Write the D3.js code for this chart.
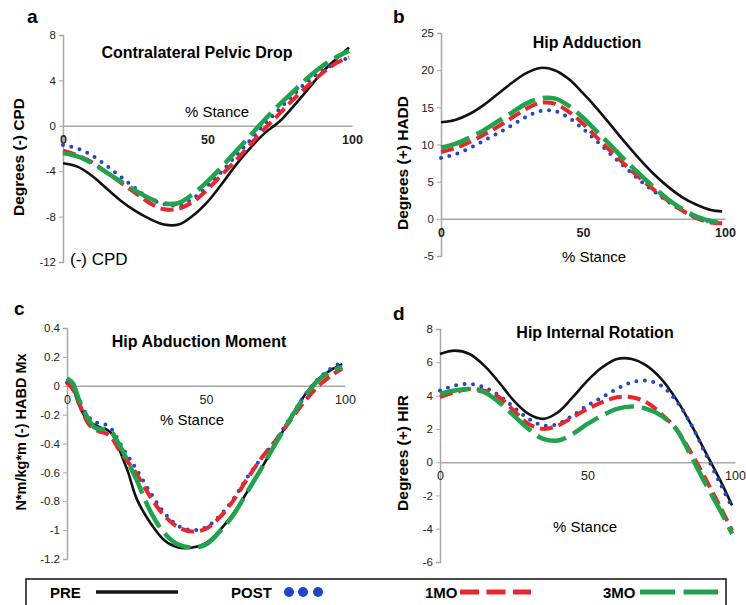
<!DOCTYPE html>
<html>
<head>
<meta charset="utf-8">
<script src="https://cdn.jsdelivr.net/npm/d3@7"></script>
<style>
  body { margin: 0; background: #fff; }
  svg { font-family: "Liberation Sans", Arial, sans-serif; }
</style>
</head>
<body>
<script>
const W = 746, H = 605

// % stance sample points
const stance = [0,5,10,15,20,25,30,35,40,45,50,55,60,65,70,75,80,85,90,95,99]
const stanceC = [0,2,4,6,8,10,12,14,16,18,20,22,25,30,35,40,45,50,55,60,65,70,75,80,85,90,95,99]
const xTicks = [0, 50, 100]

// a - contralateral pelvic drop
const cpdPre  = [-3.3,-3.6,-4.4,-5.5,-6.6,-7.5,-8.2,-8.7,-8.7,-7.9,-6.7,-5.1,-3.4,-1.9,-0.6,0.4,1.8,3.3,4.8,6.0,6.9]
const cpdPost = [-1.7,-2.0,-2.6,-3.5,-4.5,-5.5,-6.4,-6.9,-7.0,-6.4,-5.3,-4.0,-2.6,-1.2,0.2,1.5,2.8,4.0,4.9,5.6,6.0]
const cpd1mo  = [-2.2,-2.6,-3.2,-4.1,-5.0,-5.9,-6.8,-7.35,-7.3,-6.7,-5.6,-4.3,-3.0,-1.6,-0.2,1.1,2.4,3.6,4.7,5.6,6.0]
const cpd3mo  = [-2.4,-2.7,-3.3,-4.1,-4.9,-5.7,-6.4,-6.85,-6.8,-6.0,-4.9,-3.6,-2.2,-0.8,0.6,1.9,3.1,4.3,5.3,6.1,6.6]
const cpdTicks = [-12,-8,-4,0,4,8]

// b - hip adduction
const haddPre  = [13.0,13.3,14.1,15.3,16.8,18.3,19.6,20.3,20.0,18.8,16.9,14.8,12.5,10.2,8.0,6.0,4.3,2.9,1.9,1.2,1.0]
const haddPost = [8.2,8.7,9.5,10.5,11.5,12.6,13.7,14.5,14.5,13.6,12.1,10.4,8.6,6.9,5.2,3.7,2.3,1.1,0.2,-0.4,-0.6]
const hadd1mo  = [9.0,9.5,10.3,11.3,12.4,13.6,14.8,15.6,15.5,14.4,12.8,10.9,9.0,7.2,5.5,3.9,2.4,1.1,0.1,-0.5,-0.6]
const hadd3mo  = [9.6,10.1,10.9,11.9,13.1,14.3,15.5,16.2,16.2,15.2,13.6,11.7,9.8,7.8,6.0,4.2,2.6,1.3,0.3,-0.3,-0.5]
const haddTicks = [-5,0,5,10,15,20,25]

// c - hip abduction moment
const habdPre  = [0.05,0.0,-0.12,-0.2,-0.25,-0.27,-0.29,-0.3,-0.33,-0.4,-0.5,-0.6,-0.78,-0.95,-1.07,-1.12,-1.12,-1.09,-1.0,-0.88,-0.73,-0.57,-0.4,-0.24,-0.08,0.04,0.11,0.15]
const habdPost = [0.02,-0.02,-0.1,-0.17,-0.22,-0.25,-0.26,-0.27,-0.3,-0.36,-0.43,-0.49,-0.58,-0.74,-0.88,-0.97,-1.0,-0.98,-0.9,-0.78,-0.63,-0.5,-0.38,-0.23,-0.08,0.04,0.12,0.16]
const habd1mo  = [0.02,-0.02,-0.1,-0.2,-0.27,-0.3,-0.32,-0.33,-0.36,-0.42,-0.48,-0.53,-0.61,-0.77,-0.9,-0.98,-1.01,-0.99,-0.91,-0.79,-0.64,-0.5,-0.38,-0.25,-0.12,-0.01,0.07,0.12]
const habd3mo  = [0.05,0.02,-0.08,-0.17,-0.24,-0.29,-0.3,-0.3,-0.32,-0.38,-0.45,-0.53,-0.65,-0.87,-1.02,-1.1,-1.12,-1.1,-1.01,-0.89,-0.73,-0.57,-0.4,-0.24,-0.09,0.03,0.1,0.13]
const habdTicks = [-1.2,-1,-0.8,-0.6,-0.4,-0.2,0,0.2,0.4]

// d - hip internal rotation
const hirPre  = [6.5,6.7,6.5,5.8,4.8,3.7,2.9,2.6,3.0,3.9,4.9,5.7,6.2,6.2,5.8,5.0,3.8,2.3,0.6,-1.1,-2.6]
const hirPost = [4.3,4.6,4.7,4.5,4.0,3.3,2.6,2.2,2.3,2.8,3.4,3.9,4.4,4.8,4.9,4.6,3.7,2.3,0.5,-1.3,-2.7]
const hir1mo  = [3.9,4.2,4.4,4.3,3.9,3.1,2.3,2.0,2.2,2.7,3.2,3.6,3.9,3.9,3.6,2.9,2.0,0.6,-1.0,-2.7,-4.1]
const hir3mo  = [4.1,4.3,4.4,4.2,3.6,2.8,2.0,1.4,1.3,1.7,2.3,2.8,3.2,3.35,3.2,2.8,2.0,0.4,-1.3,-2.9,-4.3]
const hirTicks = [-6,-4,-2,0,2,4,6,8]

const groups = ['PRE', 'POST', '1MO', '3MO']
const style = {
    'PRE':  {color: '#111111', width: 2.6, dash: null},
    'POST': {color: '#2146c7', width: 4,   dash: '0 8.5'},
    '1MO':  {color: '#e8262b', width: 4,   dash: '13 6'},
    '3MO':  {color: '#21a24d', width: 4.5, dash: '30 8'}
}

const panels = [
    {letter: 'a', title: 'Contralateral Pelvic Drop', ylab: 'Degrees (-) CPD', xs: stance,
     series: [cpdPre, cpdPost, cpd1mo, cpd3mo], yTicks: cpdTicks,
     xr: [63, 352], yr: [262, 35], boldX: true,
     letterPos: [27, 23], titlePos: [197, 58], stancePos: [217, 117], ylabPos: [19, 157]},
    {letter: 'b', title: 'Hip Adduction', ylab: 'Degrees (+) HADD', xs: stance,
     series: [haddPre, haddPost, hadd1mo, hadd3mo], yTicks: haddTicks,
     xr: [441, 725], yr: [256, 33], boldX: true,
     letterPos: [393, 23], titlePos: [587, 48], stancePos: [594, 262], ylabPos: [403, 163]},
    {letter: 'c', title: 'Hip Abduction Moment', ylab: 'N*m/kg*m (-) HABD Mx', xs: stanceC,
     series: [habdPre, habdPost, habd1mo, habd3mo], yTicks: habdTicks,
     xr: [67, 345], yr: [559, 328], boldX: false,
     letterPos: [14, 315], titlePos: [199, 347], stancePos: [192, 425], ylabPos: [21, 432]},
    {letter: 'd', title: 'Hip Internal Rotation', ylab: 'Degrees (+) HIR', xs: stance,
     series: [hirPre, hirPost, hir1mo, hir3mo], yTicks: hirTicks,
     xr: [440, 735], yr: [562, 329], boldX: false,
     letterPos: [393, 320], titlePos: [595, 338], stancePos: [585, 532], ylabPos: [403, 453]}
]

const svg = d3.select('body').append('svg')
    .attr('width', W)
    .attr('height', H)

const fmt = d => String(+d.toFixed(1))

panels.forEach(p => {
    const x = d3.scaleLinear().domain([0, 100]).range(p.xr)
    const y = d3.scaleLinear().domain(d3.extent(p.yTicks)).range(p.yr)
    const g = svg.append('g')

    // y axis
    const ya = g.append('g')
        .attr('transform', `translate(${p.xr[0]},0)`)
        .call(d3.axisLeft(y).tickValues(p.yTicks).tickSize(4).tickPadding(3).tickFormat(fmt))
    ya.select('.domain').attr('stroke', '#a8a8a8').attr('stroke-width', 1.5)
    ya.selectAll('.tick line').attr('stroke', '#a8a8a8')
    ya.selectAll('text').attr('font-size', 11.5).attr('fill', '#222')

    // x axis at zero
    const xa = g.append('g')
        .attr('transform', `translate(0,${y(0)})`)
        .call(d3.axisBottom(x).tickValues(xTicks).tickSize(0).tickPadding(9))
    xa.select('.domain').attr('stroke', '#a8a8a8').attr('stroke-width', 1.5)
    xa.selectAll('text').attr('font-size', 12.5).attr('fill', '#222')
        .attr('font-weight', p.boldX ? 'bold' : 'normal')

    // curves
    groups.forEach((name, i) => {
        const s = style[name]
        const line = d3.line()
            .x((d, j) => x(p.xs[j]))
            .y(d => y(d))
            .curve(d3.curveCatmullRom.alpha(0.5))
        g.append('path')
            .datum(p.series[i])
            .attr('d', line)
            .attr('fill', 'none')
            .attr('stroke', s.color)
            .attr('stroke-width', s.width)
            .attr('stroke-linecap', name === 'POST' ? 'round' : 'butt')
            .attr('stroke-dasharray', s.dash)
    })

    g.append('text')
        .attr('x', p.letterPos[0]).attr('y', p.letterPos[1])
        .attr('font-size', 19).attr('font-weight', 'bold')
        .text(p.letter)
    g.append('text')
        .attr('x', p.titlePos[0]).attr('y', p.titlePos[1])
        .attr('text-anchor', 'middle')
        .attr('font-size', 16).attr('font-weight', 'bold')
        .text(p.title)
    g.append('text')
        .attr('x', p.stancePos[0]).attr('y', p.stancePos[1])
        .attr('text-anchor', 'middle')
        .attr('font-size', 15)
        .text('% Stance')
    g.append('text')
        .attr('transform', `translate(${p.ylabPos[0] + 5},${p.ylabPos[1]}) rotate(-90)`)
        .attr('text-anchor', 'middle')
        .attr('font-size', p.letter === 'c' ? 14.5 : 15.5).attr('font-weight', 'bold')
        .text(p.ylab)
})

svg.append('text')
    .attr('x', 70).attr('y', 265)
    .attr('font-size', 17)
    .text('(-) CPD')

// legend
const legend = svg.append('g')
legend.append('rect')
    .attr('x', 26).attr('y', 579)
    .attr('width', 700).attr('height', 50)
    .attr('fill', 'none')
    .attr('stroke', '#111')
    .attr('stroke-width', 1.5)

const legendText = [50, 231, 425, 603]
const legendY = 592
groups.forEach((name, i) => {
    legend.append('text')
        .attr('x', legendText[i]).attr('y', 598)
        .attr('font-size', 15).attr('font-weight', 'bold')
        .text(name)
})
legend.append('line')
    .attr('x1', 96).attr('x2', 178).attr('y1', legendY).attr('y2', legendY)
    .attr('stroke', style.PRE.color).attr('stroke-width', 3.5)
legend.selectAll('circle.dot')
    .data([289, 303, 318])
    .join('circle')
    .attr('cx', d => d).attr('cy', legendY).attr('r', 5)
    .attr('fill', style.POST.color)
legend.append('line')
    .attr('x1', 460).attr('x2', 531).attr('y1', legendY).attr('y2', legendY)
    .attr('stroke', style['1MO'].color).attr('stroke-width', 5)
    .attr('stroke-dasharray', '19 7.5')
legend.append('line')
    .attr('x1', 640).attr('x2', 718).attr('y1', legendY).attr('y2', legendY)
    .attr('stroke', style['3MO'].color).attr('stroke-width', 5)
    .attr('stroke-dasharray', '35 8.5')
</script>
</body>
</html>
